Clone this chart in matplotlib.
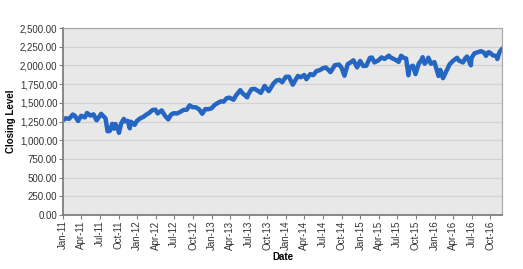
import matplotlib
matplotlib.use("Agg")
import matplotlib.pyplot as plt
import matplotlib.dates as mdates
import matplotlib.ticker as mticker
import pandas as pd

# closing levels (approx. twice a month plus the dips)
dates = [
    "2011-01-03", "2011-01-14", "2011-01-31", "2011-02-18", "2011-02-28", "2011-03-16", "2011-03-31",
    "2011-04-18", "2011-04-29", "2011-05-16", "2011-05-31", "2011-06-15", "2011-06-30", "2011-07-07",
    "2011-07-29", "2011-08-08", "2011-08-19", "2011-08-31", "2011-09-09", "2011-09-16", "2011-09-30",
    "2011-10-03", "2011-10-14", "2011-10-27", "2011-10-31", "2011-11-15", "2011-11-25", "2011-11-30",
    "2011-12-19", "2011-12-30",
    "2012-01-16", "2012-01-31", "2012-02-15", "2012-02-29", "2012-03-15", "2012-03-30", "2012-04-10",
    "2012-04-30", "2012-05-15", "2012-06-01", "2012-06-15", "2012-06-29", "2012-07-13", "2012-07-31",
    "2012-08-15", "2012-08-31", "2012-09-14", "2012-09-28", "2012-10-15", "2012-10-31", "2012-11-15",
    "2012-11-30", "2012-12-14", "2012-12-31",
    "2013-01-15", "2013-01-31", "2013-02-15", "2013-02-28", "2013-03-15", "2013-03-28", "2013-04-18",
    "2013-04-30", "2013-05-21", "2013-05-31", "2013-06-24", "2013-06-28", "2013-07-15", "2013-07-31",
    "2013-08-15", "2013-08-30", "2013-09-18", "2013-09-30", "2013-10-08", "2013-10-31", "2013-11-15",
    "2013-11-29", "2013-12-13", "2013-12-31",
    "2014-01-15", "2014-02-03", "2014-02-28", "2014-03-14", "2014-03-31", "2014-04-11", "2014-04-30",
    "2014-05-15", "2014-05-30", "2014-06-16", "2014-06-30", "2014-07-15", "2014-07-31", "2014-08-07",
    "2014-08-29", "2014-09-18", "2014-09-30", "2014-10-15", "2014-10-31", "2014-11-14", "2014-11-28",
    "2014-12-16", "2014-12-31",
    "2015-01-15", "2015-01-30", "2015-02-17", "2015-02-27", "2015-03-11", "2015-03-31", "2015-04-15",
    "2015-04-30", "2015-05-21", "2015-05-29", "2015-06-15", "2015-06-30", "2015-07-08", "2015-07-20",
    "2015-07-31", "2015-08-14", "2015-08-25", "2015-08-31", "2015-09-16", "2015-09-29", "2015-10-15",
    "2015-10-30", "2015-11-03", "2015-11-13", "2015-11-30", "2015-12-01", "2015-12-14", "2015-12-31",
    "2016-01-20", "2016-01-29", "2016-02-11", "2016-02-29", "2016-03-15", "2016-03-31", "2016-04-20",
    "2016-04-29", "2016-05-19", "2016-05-31", "2016-06-08", "2016-06-27", "2016-06-30", "2016-07-15",
    "2016-07-29", "2016-08-15", "2016-08-31", "2016-09-09", "2016-09-22", "2016-09-30", "2016-10-14",
    "2016-10-31", "2016-11-04", "2016-11-15", "2016-11-25",
]
closes = [
    1271, 1293, 1286, 1343, 1327, 1257, 1326,
    1305, 1364, 1329, 1345, 1266, 1321, 1353,
    1292, 1119, 1124, 1219, 1154, 1216, 1131,
    1099, 1225, 1285, 1253, 1258, 1159, 1247,
    1205, 1258,
    1293, 1312, 1343, 1366, 1403, 1408, 1358,
    1398, 1331, 1278, 1343, 1362, 1356, 1379,
    1405, 1407, 1466, 1441, 1440, 1412, 1353,
    1416, 1414, 1426,
    1472, 1498, 1520, 1515, 1561, 1569, 1541,
    1598, 1669, 1631, 1573, 1606, 1682, 1686,
    1661, 1633, 1726, 1682, 1656, 1757, 1798,
    1806, 1775, 1848,
    1848, 1742, 1859, 1841, 1872, 1816, 1884,
    1870, 1924, 1937, 1960, 1973, 1931, 1910,
    2003, 2011, 1972, 1862, 2018, 2040, 2068,
    1973, 2059,
    1993, 1995, 2100, 2105, 2040, 2068, 2107,
    2086, 2131, 2107, 2085, 2063, 2047, 2129,
    2104, 2092, 1868, 1972, 1996, 1884, 2024,
    2079, 2110, 2023, 2080, 2103, 2022, 2044,
    1859, 1940, 1829, 1932, 2016, 2060, 2102,
    2065, 2040, 2097, 2119, 2001, 2099, 2162,
    2174, 2190, 2171, 2128, 2177, 2168, 2133,
    2126, 2085, 2180, 2213,
]

x = pd.to_datetime(dates)

plt.rcParams['font.family'] = ['Liberation Sans', 'DejaVu Sans']
fig = plt.figure(figsize=(5.23, 2.69), dpi=100)
ax = fig.add_axes([63 / 523, 1 - 215 / 269, 439 / 523, 187 / 269])
ax.set_facecolor('#E8E8E8')

ax.plot(x, closes, color='#2466C2', linewidth=3.2, solid_joinstyle='round')

ax.set_ylim(0, 2500)
ax.yaxis.set_major_locator(mticker.MultipleLocator(250))
ax.yaxis.set_major_formatter(mticker.FuncFormatter(lambda v, p: "{:,.2f}".format(v)))
ax.set_xlim(pd.Timestamp("2011-01-01"), pd.Timestamp("2016-11-27"))
ax.xaxis.set_major_locator(mdates.MonthLocator(bymonth=[1, 4, 7, 10]))
ax.xaxis.set_major_formatter(mdates.DateFormatter("%b-%y"))
plt.setp(ax.get_xticklabels(), rotation=90)

ax.grid(axis='y', color='#D2D2D2', linewidth=0.9)
ax.set_axisbelow(True)
for s in ['top', 'right']:
    ax.spines[s].set_color('#A6A6A6')
    ax.spines[s].set_linewidth(0.8)
for s in ['left', 'bottom']:
    ax.spines[s].set_color('#7F7F7F')
    ax.spines[s].set_linewidth(1.3)
ax.tick_params(labelsize=7, colors='#333333', length=3, width=0.8, pad=1)
ax.tick_params(axis='both', color='#7F7F7F')

ax.set_ylabel("Closing Level", fontsize=7, fontweight='bold', labelpad=3)
ax.set_xlabel("Date", fontsize=7, fontweight='bold', labelpad=1)

fig.savefig("out.png", dpi=100)
